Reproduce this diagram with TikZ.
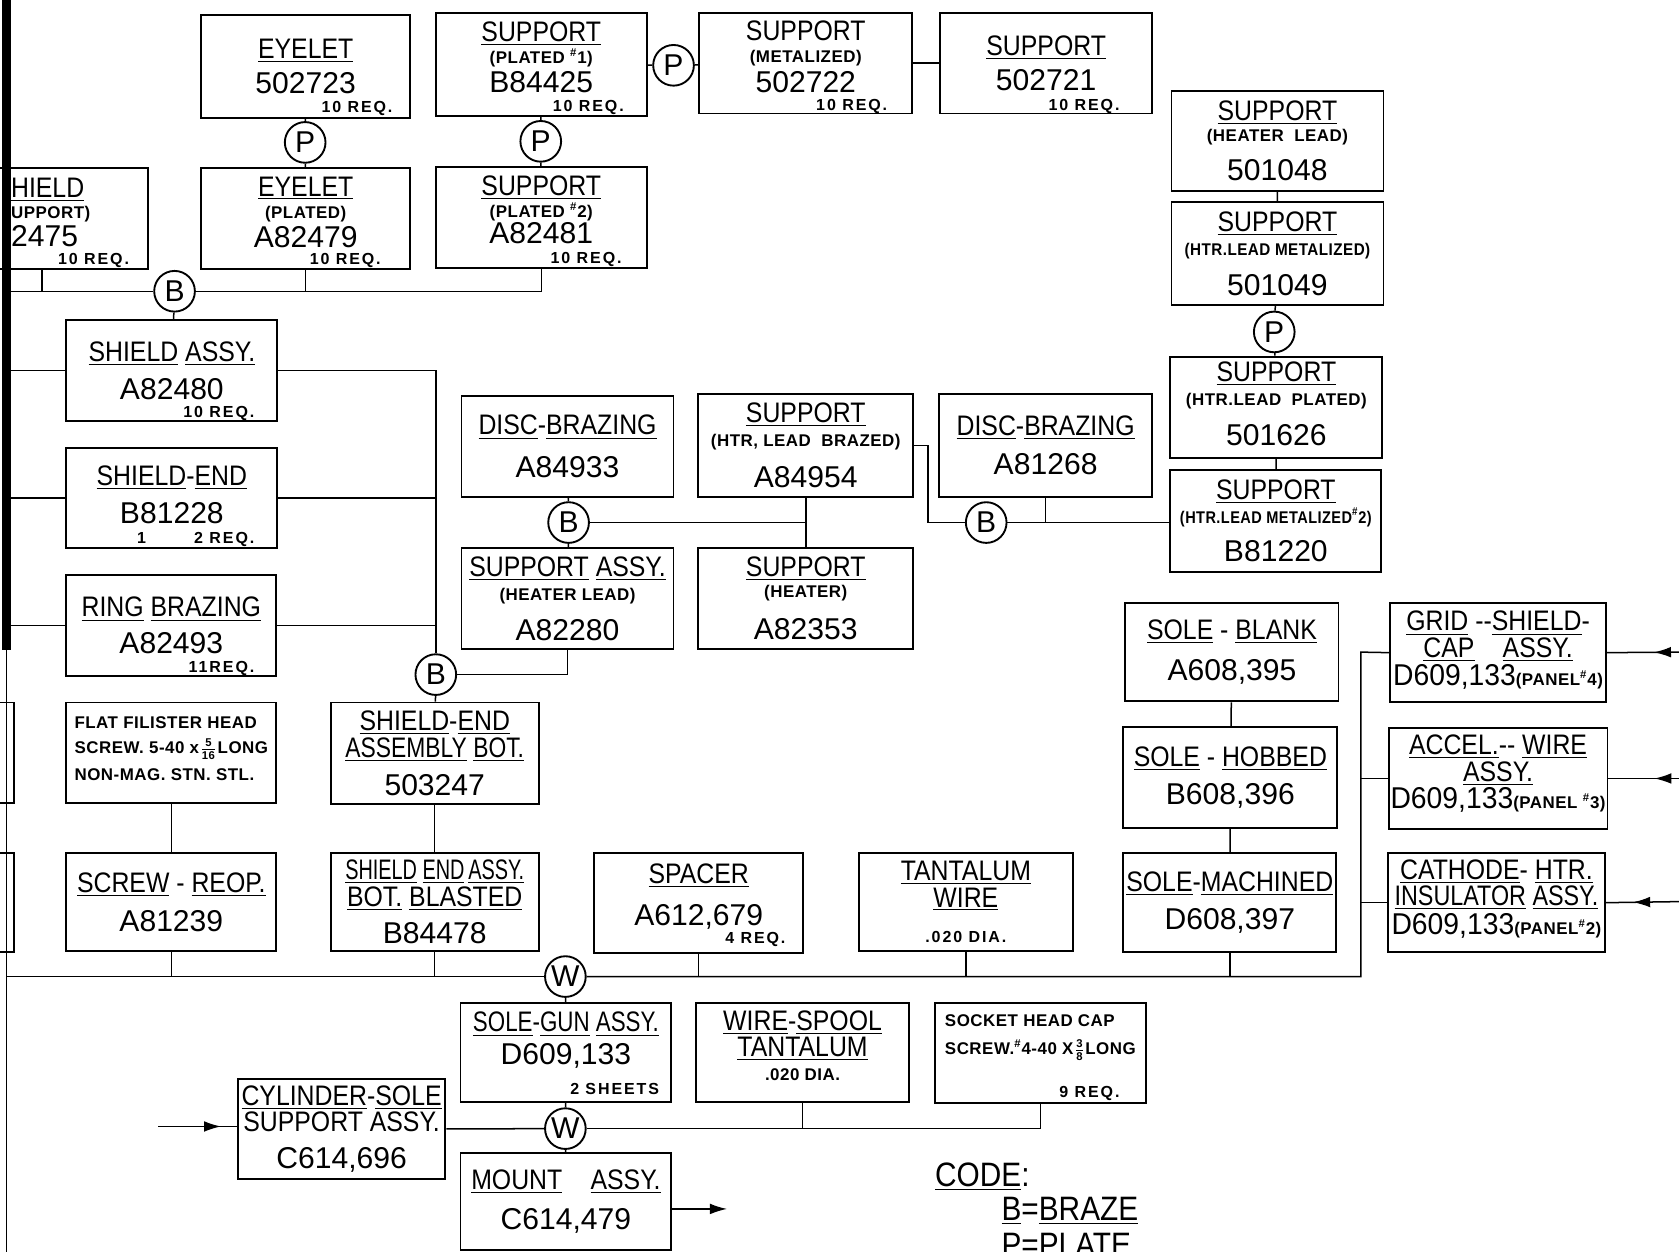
\documentclass[tikz,border=0pt]{standalone}
\usepackage{fontspec}
\setmainfont{Liberation Sans}
\newfontfamily\ttlfam[FakeStretch=0.88]{Liberation Sans}
\newfontfamily\subfam[LetterSpace=3]{Liberation Sans}
\newfontfamily\reqfam[LetterSpace=12]{Liberation Sans}
\usetikzlibrary{arrows.meta,decorations.markings}

\newcommand\ttlf{\ttlfam\mdseries\fontsize{15}{16}\selectfont}
\newcommand\subf{\subfam\bfseries\fontsize{9}{16}\selectfont}
\newcommand\numf{\rmfamily\mdseries\fontsize{16}{16}\selectfont}
\newcommand\reqf{\reqfam\bfseries\fontsize{8.5}{10}\selectfont}
\newcommand\codef{\ttlfam\mdseries\fontsize{18}{20}\selectfont}
\newcommand\und[1]{\underline{#1}}
\newcommand\padb[1]{\rule[-#1]{0pt}{#1}}
\newcommand\sfrac[2]{{\fontsize{6}{6.5}\selectfont\setlength\tabcolsep{0pt}\begin{tabular}{c}#1\\[-0.6pt]\hline\noalign{\vskip0.6pt}#2\end{tabular}}}

\tikzset{
  part/.style={draw, line width=1pt, inner sep=1pt, align=center, font=\numf,
    minimum width=3.96cm, minimum height=1.88cm},
  joint/.style={circle, draw, line width=1pt, minimum size=0.76cm, inner sep=0pt, font=\numf},
  req/.style={font=\reqf, anchor=base east, inner sep=0pt},
  wire/.style={line width=0.8pt},
  inflow/.style={postaction=decorate, decoration={markings,
    mark=at position #1 with {\arrow{Latex[length=0.32cm,width=0.2cm]}}}},
}

\begin{document}
\begin{tikzpicture}[x=0.02cm, y=-0.02cm]
  \useasboundingbox (0,0) rectangle (1568,1169);
  \clip (0,0) rectangle (1568,1169);

  % left trunk
  \coordinate (trunkTop) at (6,0);
  \coordinate (trunkMid) at (6,607);
  \coordinate (trunkBot) at (6,1169);
  \draw[line width=0.16cm] (trunkTop) -- (trunkMid);
  \draw[wire] (trunkMid) -- (trunkBot);
  \node[part] (offA) at (-86,703) {};
  \node[part, minimum height=1.84cm] (offB) at (-86,843) {};

  % top row
  \node[part, minimum width=3.9cm, minimum height=1.92cm] (eyelet) at (285.5,62) {\ttlf\und{EYELET}\\[2.6pt]\numf 502723};
  \node[req] (eyelet-r) at ([shift={(-17,-6)}]eyelet.south east) {10 REQ.};
  \node[part, minimum width=3.94cm, minimum height=1.92cm] (supPl1) at (505.5,60) {\ttlf\und{SUPPORT}\\[-3.9pt]\subf(PLATED \textsuperscript{\#}1)\\[-1pt]\numf B84425\padb{8pt}};
  \node[req] (supPl1-r) at ([shift={(-22,-5)}]supPl1.south east) {10 REQ.};
  \node[part, minimum width=3.98cm] (supMet) at (752.5,59) {\ttlf SUPPORT\\[-4.5pt]\subf(METALIZED)\\[0pt]\numf 502722\padb{7pt}};
  \node[req] (supMet-r) at ([shift={(-24,-4)}]supMet.south east) {10 REQ.};
  \node[part] (supBase) at (977,59) {\ttlf\und{SUPPORT}\\[2.6pt]\numf 502721};
  \node[req] (supBase-r) at ([shift={(-31,-4)}]supBase.south east) {10 REQ.};

  \node[joint] (pEye) at (285,133) {P};
  \node[joint] (pSup) at (505,132) {P};
  \node[joint] (pMet) at (629,61) {P};

  % second row
  \node[part] (hield) at (39,204) {};
  \node[inner sep=0pt, anchor=north west, align=left, font=\numf] (hield-t) at (10,166) {\ttlf\und{HIELD}\\[-5.1pt]\subf UPPORT)\\[-1pt]\numf 2475};
  \node[req] (hield-r) at ([shift={(-18,-5)}]hield.south east) {10 REQ.};
  \node[part, minimum width=3.9cm] (eyePl) at (285.5,204) {\ttlf\und{EYELET}\\[-3.9pt]\subf(PLATED)\\[-1pt]\numf A82479\padb{7pt}};
  \node[req] (eyePl-r) at ([shift={(-28,-5)}]eyePl.south east) {10 REQ.};
  \node[part, minimum width=3.94cm] (supPl2) at (505.5,203) {\ttlf\und{SUPPORT}\\[-4.5pt]\subf(PLATED \textsuperscript{\#}2)\\[-2.1pt]\numf A82481\padb{8pt}};
  \node[req] (supPl2-r) at ([shift={(-24,-5)}]supPl2.south east) {10 REQ.};

  \node[joint] (bShield) at (163,272) {B};

  % left column
  \node[part, minimum width=3.94cm] (shield) at (160.5,346) {\ttlf\und{SHIELD} \und{ASSY.}\\[4.3pt]\numf A82480};
  \node[req] (shield-r) at ([shift={(-22,-4)}]shield.south east) {10 REQ.};
  \node[part, minimum width=3.94cm] (shieldEnd) at (160.5,465) {\ttlf\und{SHIELD}-\und{END}\\[4.3pt]\numf B81228\padb{3.5pt}};
  \node[req] (shieldEnd-r) at ([shift={(-22,-5)}]shieldEnd.south east) {1\hspace{0.9cm}2 REQ.};
  \node[part, minimum width=3.92cm] (ring) at (160,584) {\ttlf\und{RING} \und{BRAZING}\\[3.2pt]\numf A82493};
  \node[req] (ring-r) at ([shift={(-21,-4)}]ring.south east) {11REQ.};
  \node[part, minimum width=3.92cm, align=left] (flat) at (160,703) {\subf FLAT FILISTER HEAD\\[-2.6pt]\subf SCREW. 5-40 x\,\sfrac{5}{16}\,LONG\\[-1.6pt]\subf NON-MAG. STN. STL.\padb{4.5pt}};
  \node[part, minimum width=3.92cm, minimum height=1.82cm] (reop) at (160,842.5) {\ttlf\und{SCREW} - \und{REOP.}\\[4.9pt]\numf A81239};

  \node[joint] (bEnd) at (407,630) {B};
  \node[part, minimum width=3.88cm, minimum height=1.9cm] (shEndBot) at (406,703.5) {\ttlf\und{SHIELD}-\und{END}\\[-1.6pt]\ttlf\scalebox{0.92}[1]{\und{ASSEMBLY}\ \und{BOT.}}\\[3.8pt]\numf 503247};
  \node[part, minimum width=3.88cm, minimum height=1.82cm] (blasted) at (406,842.5) {\ttlf\scalebox{0.8}[1]{\und{SHIELD} \und{END}\,\und{ASSY.}}\\[-2pt]\ttlf\und{BOT.} \und{BLASTED}\\[4pt]\numf B84478};
  \node[part, minimum width=3.9cm, minimum height=1.86cm] (spacer) at (652.5,843.5) {\ttlf\und{SPACER}\\[6.6pt]\numf A612,679\padb{9pt}};
  \node[req] (spacer-r) at ([shift={(-17,-10)}]spacer.south east) {4 REQ.};
  \node[part, minimum width=4cm, minimum height=1.82cm] (tantalum) at (902,842.5) {\ttlf\und{TANTALUM}\\[-2pt]\ttlf\und{WIRE}\\[3pt]\reqf .020 DIA.};

  % heater lead cluster
  \node[part] (discA) at (530,417) {\ttlf\und{DISC}-\und{BRAZING}\\[6.6pt]\numf A84933};
  \node[part, minimum width=4.02cm, minimum height=1.92cm] (htrBrazed) at (752.5,416) {\ttlf\und{SUPPORT}\\[-3.4pt]\subf(HTR, LEAD \ BRAZED)\\[5.9pt]\numf A84954};
  \node[part, minimum width=3.98cm, minimum height=1.92cm] (discB) at (976.5,416) {\ttlf\und{DISC}-\und{BRAZING}\\[4.9pt]\numf A81268};
  \node[joint] (bHtr) at (531,488) {B};
  \node[joint] (bDisc) at (921,488) {B};
  \node[part] (supAssyHL) at (530,559) {\ttlf\und{SUPPORT} \und{ASSY.}\\[-3.4pt]\subf(HEATER LEAD)\\[5.3pt]\numf A82280};
  \node[part, minimum width=4.02cm] (supHeater) at (752.5,559) {\ttlf\und{SUPPORT}\\[-5.1pt]\subf(HEATER)\\[6.4pt]\numf A82353};

  % right column
  \node[part, minimum height=1.86cm] (lead48) at (1193,131.5) {\ttlf\und{SUPPORT}\\[-4.5pt]\subf(HEATER \ LEAD)\\[4.7pt]\numf 501048};
  \node[part, minimum height=1.92cm] (lead49) at (1193,237) {\ttlf\und{SUPPORT}\\[-3.4pt]\subf\scalebox{0.9}[1]{(HTR.LEAD METALIZED)}\\[5.3pt]\numf 501049};
  \node[joint] (pLead) at (1190,310) {P};
  \node[part, minimum height=1.9cm] (lead26) at (1192,380.5) {\ttlf\und{SUPPORT}\\[-2.8pt]\subf(HTR.LEAD \ PLATED)\\[5.3pt]\numf 501626\padb{4pt}};
  \node[part, minimum width=3.94cm, minimum height=1.9cm] (lead20) at (1191.5,486.5) {\ttlf\und{SUPPORT}\\[-3.4pt]\subf\scalebox{0.86}[1]{(HTR.LEAD METALIZED\textsuperscript{\#}2)}\\[4.7pt]\numf B81220};

  \node[part, minimum width=3.98cm, minimum height=1.84cm] (soleBlank) at (1150.5,609) {\ttlf\und{SOLE} - \und{BLANK}\\[6pt]\numf A608,395};
  \node[part, minimum width=4cm] (soleHob) at (1149,726) {\ttlf\und{SOLE} - \und{HOBBED}\\[4.3pt]\numf B608,396};
  \node[part, minimum width=3.98cm, minimum height=1.84cm] (soleMach) at (1148.5,843) {\ttlf\und{SOLE}-\und{MACHINED}\\[4.3pt]\numf D608,397};

  \node[part, minimum width=4.04cm, minimum height=1.86cm] (grid) at (1399,609.5) {\ttlf\und{GRID} --\und{SHIELD}-\\[-2pt]\ttlf\und{CAP}\quad\und{ASSY.}\\[-1pt]\numf\scalebox{0.94}[1]{D609,133}{\subf(PANEL\textsuperscript{\#}4)}\padb{4.5pt}};
  \node[part, minimum width=4.04cm] (accel) at (1399,727) {\ttlf\und{ACCEL.}--\ \und{WIRE}\\[-1.8pt]\ttlf\und{ASSY.}\\[-1.6pt]\numf\scalebox{0.94}[1]{D609,133}{\subf(PANEL \textsuperscript{\#}3)}\padb{7pt}};
  \node[part, minimum width=4.06cm, minimum height=1.84cm] (cathode) at (1397.5,843) {\ttlf\und{CATHODE}- \und{HTR.}\\[-2pt]\ttlf\scalebox{0.94}[1]{\und{INSULATOR} \und{ASSY.}}\\[-0.8pt]\numf\scalebox{0.94}[1]{D609,133}{\subf(PANEL\textsuperscript{\#}2)}\padb{6pt}};

  % bottom
  \node[joint] (bWeld) at (528,912) {W};
  \node[part, minimum width=3.94cm, minimum height=1.84cm] (soleGun) at (528.5,983) {\ttlf\scalebox{0.9}[1]{\und{SOLE}-\und{GUN} \und{ASSY.}}\\[1.4pt]\numf D609,133\padb{15pt}};
  \node[req] (soleGun-r) at ([shift={(-12,-8)}]soleGun.south east) {2 SHEETS};
  \node[part, minimum width=3.98cm, minimum height=1.84cm] (wireSpool) at (749.5,983) {\ttlf\und{WIRE}-\und{SPOOL}\\[-2pt]\ttlf\und{TANTALUM}\\[-3.4pt]\subf .020 DIA.\padb{7.5pt}};
  \node[part, minimum width=3.94cm, minimum height=1.86cm] (socket) at (971.5,983.5) {};
  \node[inner sep=0pt, anchor=north west, align=left, font=\subf] (socket-t) at ([shift={(10,11)}]socket.north west) {\subf SOCKET HEAD CAP\\[-1pt]\subf SCREW.\textsuperscript{\#}4-40 X\,\sfrac{3}{8}\,LONG};
  \node[req] (socket-r) at ([shift={(-25,-6)}]socket.south east) {9 REQ.};
  \node[joint] (bMount) at (528,1054) {W};
  \node[part, minimum width=3.88cm, minimum height=1.86cm] (cylinder) at (319,1054.5) {\ttlf\und{CYLINDER}-\und{SOLE}\\[-2pt]\ttlf SUPPORT ASSY.\\[3.6pt]\numf C614,696};
  \node[part, minimum width=3.94cm, minimum height=1.8cm] (mount) at (528.5,1122) {\ttlf\und{MOUNT}\quad\und{ASSY.}\\[5.4pt]\numf C614,479};

  % code
  \node[anchor=base west, inner sep=0pt, font=\codef] (code) at (873,1108) {\und{CODE}:};
  \node[anchor=base west, inner sep=0pt, font=\codef] (codeB) at (935,1140) {\und{B}=\und{BRAZE}};
  \node[anchor=base west, inner sep=0pt, font=\codef] (codeP) at (935,1173) {P=PLATE};

  % plating links
  \draw[wire] (eyelet) -- (pEye) -- (eyePl);
  \draw[wire] (supPl1) -- (pSup) -- (supPl2);
  \draw[wire] (supPl1) -- (pMet) -- (supMet);
  \draw[wire] (supMet) -- (supBase);

  % shield brazing
  \draw[wire] (trunkTop |- bShield) -- (bShield.west);
  \draw[wire] (bShield.east) -- (bShield -| supPl2.south) -- (supPl2.south);
  \draw[wire] (hield.south) -- (hield.south |- bShield);
  \draw[wire] (eyePl.south) -- (eyePl.south |- bShield);
  \draw[wire] (bShield) -- (shield);
  \draw[wire] (trunkTop |- shield.west) -- (shield.west);
  \draw[wire] (trunkTop |- shieldEnd.west) -- (shieldEnd.west);
  \draw[wire] (trunkTop |- ring.west) -- (ring.west);
  \draw[wire] (shield.east) -| (bEnd.north);
  \draw[wire] (shieldEnd.east) -- (shieldEnd.east -| bEnd);
  \draw[wire] (ring.east) -- (ring.east -| bEnd);
  \draw[wire] (bEnd.east) -| (supAssyHL.south);
  \draw[wire] (bEnd) -- (shEndBot);
  \draw[wire] (shEndBot) -- (blasted);
  \draw[wire] (flat) -- (reop);

  % heater lead brazing
  \draw[wire] (discA) -- (bHtr) -- (supAssyHL);
  \draw[wire] (bHtr.east) -- (bHtr -| htrBrazed.south);
  \draw[wire] (htrBrazed) -- (supHeater);
  \draw[wire] (htrBrazed.east) -- ++(13,0) |- (bDisc.west);
  \draw[wire] (bDisc.east) -- (lead20.west |- bDisc);
  \draw[wire] (discB.south) -- (discB.south |- bDisc);
  \draw[wire] (lead48) -- (lead49) -- (pLead) -- (lead26) -- (lead20);
  \draw[wire] (soleBlank) -- (soleHob) -- (soleMach);

  % welding
  \coordinate (panelBus) at (1271,609);
  \draw[wire] (trunkBot |- bWeld) -- (bWeld.west);
  \draw[wire] (bWeld.east) -| (panelBus) -- (grid.west);
  \draw[wire] (accel.west -| panelBus) -- (accel.west);
  \draw[wire] (cathode.west -| panelBus) -- (cathode.west);
  \draw[wire] (reop.south) -- (reop.south |- bWeld);
  \draw[wire] (blasted.south) -- (blasted.south |- bWeld);
  \draw[wire] (spacer.south) -- (spacer.south |- bWeld);
  \draw[wire] (tantalum.south) -- (tantalum.south |- bWeld);
  \draw[wire] (soleMach.south) -- (soleMach.south |- bWeld);

  \coordinate (gridIn) at (1568,609);
  \coordinate (accelIn) at (1568,727);
  \coordinate (cathIn) at (1568,842);
  \draw[wire, inflow=0.35] (gridIn) -- (grid.east);
  \draw[wire, inflow=0.35] (accelIn) -- (accel.east);
  \draw[wire, inflow=0.63] (cathIn) -- (cathode.east);

  \draw[wire] (bWeld) -- (soleGun) -- (bMount) -- (mount);
  \draw[wire] (bMount) -- (cylinder);
  \draw[wire] (bMount.east) -| (socket.south);
  \draw[wire] (wireSpool.south) -- (wireSpool.south |- bMount);

  \coordinate (cylIn) at (148,1052);
  \coordinate (mountOut) at (679,1129);
  \draw[wire, inflow=0.8] (cylIn) -- (cylinder.west |- cylIn);
  \draw[wire, -{Latex[length=0.32cm,width=0.2cm]}] (mount.east |- mountOut) -- (mountOut);
\end{tikzpicture}
\end{document}
